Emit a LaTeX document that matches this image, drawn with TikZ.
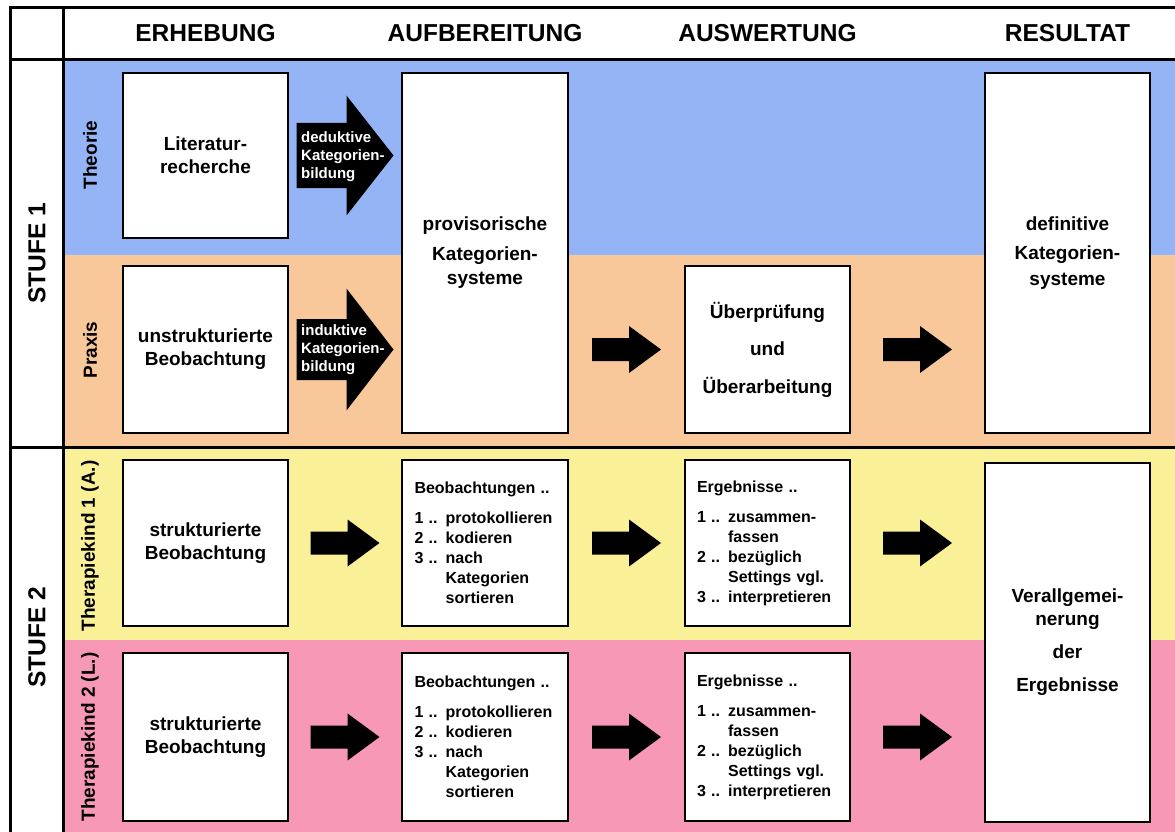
\documentclass[tikz,border=0pt]{standalone}
\usepackage{fontspec}
\setmainfont{Liberation Sans}
\usetikzlibrary{calc}
\definecolor{bandblue}{RGB}{148,180,246}
\definecolor{bandorange}{RGB}{249,200,154}
\definecolor{bandyellow}{RGB}{250,240,152}
\definecolor{bandpink}{RGB}{246,152,182}
\newcommand{\dgHead}{\fontsize{24.5}{28}\selectfont\bfseries}
\newcommand{\dgBig}{\fontsize{19}{23}\selectfont\bfseries}
\newcommand{\dgList}{\fontsize{16}{20}\selectfont\bfseries}
\newcommand{\dgLbl}{\fontsize{15}{18}\selectfont\bfseries}
\newcommand{\dgSide}{\fontsize{19}{22}\selectfont\bfseries}
\begin{document}
\begin{tikzpicture}[x=1pt,y=-1pt,
  frameline/.style={line width=3pt, line cap=rect},
  box/.style={draw=black, line width=2.5pt, fill=white, inner sep=0pt, align=center, font=\dgBig},
  listbox/.style={box, font=\dgList, align=left, text width=141pt},
  hd/.style={font=\dgHead, inner sep=0pt},
  side/.style={font=\dgSide, rotate=90, inner sep=0pt},
  stufe/.style={font=\dgHead, rotate=90, inner sep=0pt},
  arrlbl/.style={font=\dgLbl, text=white, align=left, inner sep=0pt, anchor=west},
  blockarrow/.style n args={4}{fill=black, to path={
    ($(\tikztostart)!0.5!(\tikztotarget)$) ++({-#1/2},{-#2/2})
    -- ++({#1-#4},0) -- ++(0,{-(#3-#2)/2}) -- ++(#4,{#3/2})
    -- ++({-#4},{#3/2}) -- ++(0,{-(#3-#2)/2}) -- ++({-(#1-#4)},0) -- cycle}}
]
\useasboundingbox (0,0) rectangle (1175,832);
\fill[white] (0,0) rectangle (1175,832);
% bands
\fill[bandblue] (63,60) rectangle (1175,255);
\fill[bandorange] (63,255) rectangle (1175,447);
\fill[bandyellow] (63,447) rectangle (1175,640);
\fill[bandpink] (63,640) rectangle (1175,832);
% frame
\draw[frameline] (10,8) -- (1175,8);
\draw[frameline] (10,8) -- (10,832);
\draw[frameline] (63,8) -- (63,832);
\draw[frameline] (10,60) -- (1175,60);
\draw[frameline] (10,447) -- (1175,447);
% headers
\node[hd] (h1) at (205.5,33) {ERHEBUNG};
\node[hd] (h2) at (485,33) {AUFBEREITUNG};
\node[hd] (h3) at (767.5,33) {AUSWERTUNG};
\node[hd] (h4) at (1067.5,33) {RESULTAT};
% left labels
\node[stufe] (s1) at (37,253) {STUFE 1};
\node[stufe] (s2) at (37,637) {STUFE 2};
\node[side] (l1) at (90,155) {Theorie};
\node[side] (l2) at (90,350) {Praxis};
\node[side] (l3) at (90,546) {Therapiekind 1 (A.)};
\node[side] (l4) at (90,737) {Therapiekind 2 (L.)};
% stufe 1 boxes
\node[box, minimum width=165pt, minimum height=165pt] (lit) at (205.5,155.5) {Literatur-\\recherche};
\node[box, minimum width=165pt, minimum height=167pt] (unstr) at (205.5,349.5) {unstrukturierte\\Beobachtung};
\node[box, minimum width=166pt, minimum height=360pt] (prov) at (485,253) {provisorische\\[7pt]Kategorien-\\[1pt]systeme};
\node[box, minimum width=165pt, minimum height=167pt] (ueb) at (767.5,349.5) {Überprüfung\\[14.5pt]und\\[14.5pt]Überarbeitung};
\node[box, minimum width=165pt, minimum height=360pt] (def) at (1067.5,253) {definitive\\[6pt]Kategorien-\\[3pt]systeme};
% stufe 2 boxes
\node[box, minimum width=165pt, minimum height=166pt] (str1) at (205.5,543) {strukturierte\\Beobachtung};
\node[box, minimum width=165pt, minimum height=168pt] (str2) at (205.5,737) {strukturierte\\Beobachtung};
\node[listbox, minimum width=166pt, minimum height=166pt] (beo1) at (485,543) {Beobachtungen ..\\[10pt]1 .. protokollieren\\2 .. kodieren\\3 .. nach\\\hphantom{3 .. }Kategorien\\\hphantom{3 .. }sortieren};
\node[listbox, minimum width=166pt, minimum height=168pt] (beo2) at (485,737) {Beobachtungen ..\\[10pt]1 .. protokollieren\\2 .. kodieren\\3 .. nach\\\hphantom{3 .. }Kategorien\\\hphantom{3 .. }sortieren};
\node[listbox, minimum width=165pt, minimum height=166pt] (erg1) at (767.5,543) {Ergebnisse ..\\[10pt]1 .. zusammen-\\\hphantom{1 .. }fassen\\2 .. bezüglich\\\hphantom{2 .. }Settings vgl.\\3 .. interpretieren};
\node[listbox, minimum width=165pt, minimum height=168pt] (erg2) at (767.5,737) {Ergebnisse ..\\[10pt]1 .. zusammen-\\\hphantom{1 .. }fassen\\2 .. bezüglich\\\hphantom{2 .. }Settings vgl.\\3 .. interpretieren};
\node[box, minimum width=165pt, minimum height=359pt] (ver) at (1067.5,642.5) {Verallgemei-\\nerung\\[10pt]der\\[10pt]Ergebnisse};
% labelled arrows
\path[blockarrow={97}{65}{120}{47}] (lit.east) to (lit.east -| prov.west);
\path[blockarrow={97}{61}{122}{47}] (unstr.east) to (unstr.east -| prov.west);
\node[arrlbl] (ded) at (301,157) {deduktive\\Kategorien-\\bildung};
\node[arrlbl] (ind) at (301,349.5) {induktive\\Kategorien-\\bildung};
% solid arrows
\path[blockarrow={69}{23}{47}{32}] (ueb.west -| prov.east) to (ueb.west);
\path[blockarrow={69}{23}{47}{32}] (ueb.east) to (ueb.east -| def.west);
\path[blockarrow={69}{23}{47}{32}] (str1.east) to (beo1.west);
\path[blockarrow={69}{23}{47}{32}] (beo1.east) to (erg1.west);
\path[blockarrow={69}{23}{47}{32}] (erg1.east) to (erg1.east -| ver.west);
\path[blockarrow={69}{23}{47}{32}] (str2.east) to (beo2.west);
\path[blockarrow={69}{23}{47}{32}] (beo2.east) to (erg2.west);
\path[blockarrow={69}{23}{47}{32}] (erg2.east) to (erg2.east -| ver.west);
\end{tikzpicture}
\end{document}
